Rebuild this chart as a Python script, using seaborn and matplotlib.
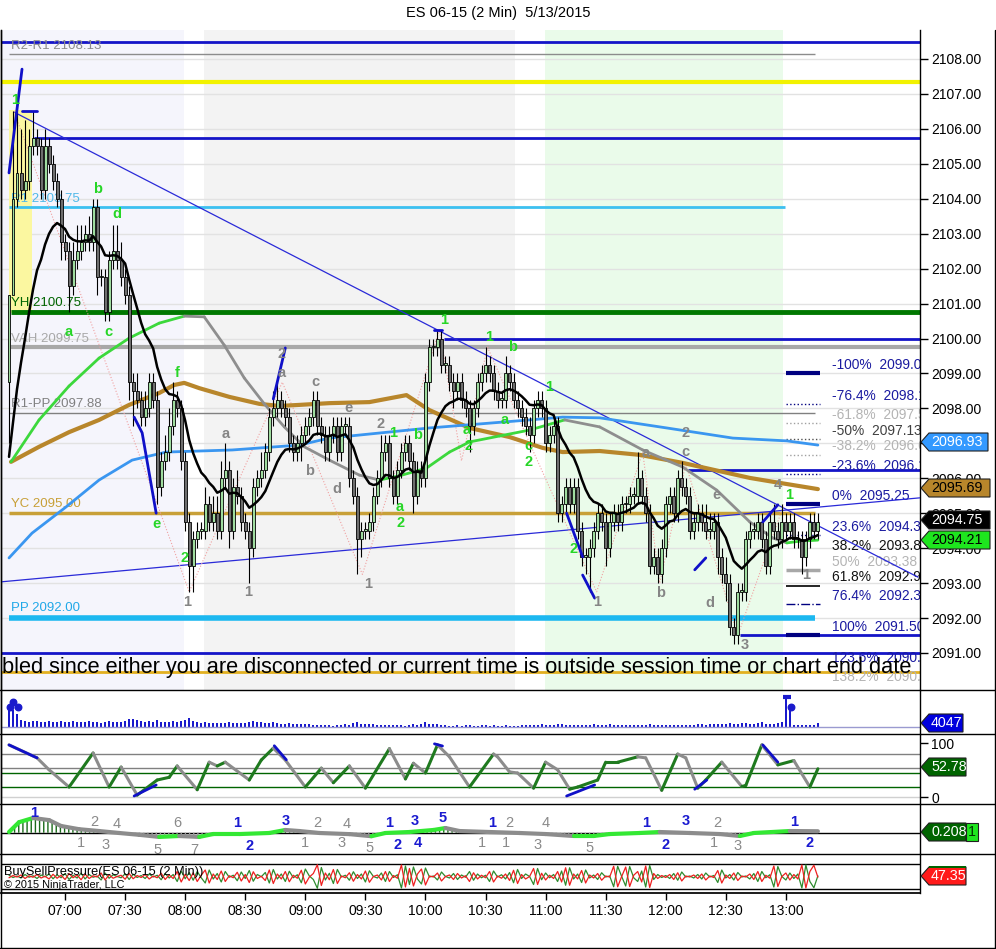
import numpy as np
import pandas as pd
import matplotlib
matplotlib.use("Agg")
import matplotlib.pyplot as plt
from matplotlib.patches import Polygon, Rectangle
from matplotlib.lines import Line2D
import seaborn as sns

W, H = 996, 949

TITLE = "ES 06-15 (2 Min)  5/13/2015"
MESSAGE = "bled since either you are disconnected or current time is outside session time or chart end date"

# ---- price bars (2 min, 06:32 .. 13:16), open = previous close ----
FIRST_OPEN = 2098.75
TICK = 0.25
CLOSES = [
    2101.25, 2104.0, 2104.75, 2104.25, 2104.5, 2105.5, 2105.75, 2105.5, 2104.25, 2105.5,
    2105.0, 2104.5, 2104.0, 2102.75, 2102.5, 2101.5, 2102.25, 2102.5, 2102.75, 2103.0,
    2102.75, 2103.75, 2101.75, 2101.75, 2100.75, 2102.25, 2102.5, 2102.25, 2101.75, 2101.25,
    2098.75, 2098.5, 2098.25, 2097.75, 2098.0, 2098.75, 2098.25, 2095.75, 2096.5, 2096.75,
    2097.5, 2098.25, 2098.0, 2096.5, 2094.75, 2093.5, 2094.25, 2094.5, 2094.5, 2095.25,
    2094.75, 2095.0, 2094.5, 2096.0, 2096.25, 2094.5, 2095.75, 2095.5, 2094.75, 2094.5,
    2094.0, 2095.75, 2096.0, 2096.25, 2096.75, 2097.75, 2098.0, 2098.25, 2098.0, 2097.75,
    2097.0, 2096.75, 2097.0, 2097.25, 2097.5, 2097.75, 2098.25, 2097.5, 2097.25, 2096.75,
    2097.25, 2097.5, 2096.75, 2097.5, 2097.5, 2096.0, 2095.5, 2094.25, 2094.5, 2094.5,
    2094.75, 2095.5, 2096.0, 2096.75, 2097.0, 2096.0, 2095.5, 2096.25, 2096.75, 2097.0,
    2096.5, 2095.5, 2096.25, 2096.0, 2098.75, 2099.75, 2099.75, 2100.0, 2099.25, 2099.25,
    2098.75, 2098.5, 2098.75, 2098.25, 2098.0, 2097.5, 2098.0, 2098.75, 2099.0, 2099.25,
    2099.0, 2098.5, 2098.25, 2098.25, 2099.0, 2098.75, 2098.25, 2098.0, 2097.75, 2097.5,
    2097.25, 2098.0, 2098.25, 2098.0, 2097.0, 2097.25, 2097.5, 2095.0, 2095.25, 2095.75,
    2095.25, 2095.75, 2094.5, 2093.75, 2093.75, 2094.0, 2094.5, 2095.0, 2094.75, 2094.0,
    2094.75, 2095.0, 2094.75, 2095.25, 2095.25, 2095.5, 2095.5, 2096.0, 2095.5, 2095.0,
    2093.5, 2093.75, 2093.25, 2094.0, 2095.25, 2095.5, 2095.0, 2096.0, 2095.75, 2095.5,
    2094.5, 2094.75, 2095.0, 2094.75, 2094.5, 2094.5, 2094.75, 2093.75, 2093.25, 2093.0,
    2091.75, 2091.5, 2092.75, 2092.75, 2094.25, 2094.5, 2094.5, 2094.75, 2094.25, 2093.5,
    2094.75, 2094.5, 2094.25, 2094.75, 2094.5, 2094.75, 2094.25, 2094.25, 2093.75, 2094.25,
    2094.75, 2094.5, 2094.75,
]
# wick lengths in ticks above / below the body
UP_TICKS = [
    0, 10, 7, 5, 7, 2, 3, 1, 1, 2,  1, 1, 1, 1, 1, 1, 2, 3, 2, 1,
    2, 1, 1, 1, 1, 1, 3, 3, 2, 1,  1, 1, 2, 1, 2, 1, 1, 1, 1, 2,
    2, 2, 1, 1, 1, 1, 1, 1, 1, 2,  1, 2, 2, 2, 3, 1, 1, 2, 1, 1,
    1, 1, 1, 2, 1, 1, 2, 2, 1, 1,  1, 1, 1, 1, 1, 1, 1, 1, 1, 1,
    1, 1, 1, 1, 1, 1, 1, 1, 1, 1,  1, 1, 1, 2, 1, 1, 1, 1, 1, 1,
    1, 1, 1, 1, 1, 1, 1, 1, 1, 1,  1, 1, 1, 1, 1, 1, 1, 1, 1, 2,
    1, 1, 1, 1, 2, 1, 1, 1, 1, 1,  1, 1, 1, 1, 1, 1, 1, 1, 1, 1,
    1, 1, 1, 1, 1, 1, 1, 1, 1, 1,  1, 1, 1, 1, 1, 1, 1, 3, 1, 1,
    1, 1, 1, 1, 1, 1, 1, 1, 2, 1,  1, 1, 1, 1, 2, 2, 1, 1, 1, 2,
    1, 1, 1, 1, 1, 1, 1, 1, 1, 1,  1, 2, 1, 2, 1, 1, 1, 1, 1, 1,
    1, 1, 1,
]
DN_TICKS = [
    7, 0, 1, 1, 1, 1, 1, 1, 1, 1,  1, 1, 1, 2, 1, 3, 1, 1, 1, 1,
    1, 1, 2, 1, 1, 1, 1, 1, 1, 1,  2, 4, 1, 1, 1, 1, 1, 2, 1, 1,
    1, 1, 1, 1, 1, 3, 3, 1, 1, 1,  1, 1, 1, 1, 1, 2, 1, 1, 1, 1,
    4, 1, 1, 1, 1, 1, 1, 1, 1, 1,  1, 1, 1, 2, 1, 1, 1, 1, 1, 1,
    1, 1, 1, 1, 1, 1, 1, 4, 2, 1,  1, 1, 1, 1, 1, 1, 1, 1, 1, 1,
    1, 2, 1, 1, 1, 1, 1, 1, 1, 1,  1, 2, 1, 1, 1, 3, 1, 1, 1, 1,
    1, 1, 1, 1, 1, 1, 1, 1, 1, 1,  2, 1, 1, 1, 1, 1, 1, 1, 1, 1,
    1, 1, 1, 1, 2, 4, 1, 1, 1, 2,  1, 1, 1, 1, 1, 1, 1, 1, 1, 1,
    1, 1, 1, 1, 1, 1, 1, 1, 1, 1,  1, 1, 1, 1, 1, 1, 1, 2, 1, 2,
    1, 1, 1, 1, 1, 1, 1, 1, 1, 1,  1, 1, 1, 1, 1, 1, 1, 1, 2, 1,
    1, 1, 1,
]
VOLUME = [
    17200, 17400, 13100, 7200, 6100, 5200, 6000, 5900, 5100, 5300,
    6200, 5100, 5000, 5800, 5200, 5100, 6100, 5000, 5200, 4900,
    6000, 5200, 5100, 4300, 5000, 6100, 5200, 4800, 5100, 6000,
    8100, 7900, 7000, 6200, 5100, 6000, 5200, 7100, 5000, 5100,
    4900, 6200, 5100, 5900, 7200, 8800, 6100, 5000, 4200, 5100,
    4100, 4200, 3900, 4100, 4000, 5000, 4100, 3900, 4200, 4000,
    5000, 6100, 5200, 4900, 4100, 3900, 5000, 4100, 3100, 2900,
    4000, 3100, 2900, 3200, 3000, 2900, 2100, 1900, 2200, 2000,
    1800, 1100, 2000, 2100, 3100, 1900, 4200, 5000, 3100, 2900,
    3000, 3100, 2000, 2100, 1900, 2000, 2200, 1900, 2100, 1200,
    2000, 3100, 2000, 2900, 5100, 3000, 3100, 2900, 2100, 1900,
    1100, 1200, 2000, 1100, 2100, 1900, 1200, 1100, 2000, 2100,
    1200, 1900, 1100, 1000, 2100, 1200, 1100, 1000, 2000, 2100,
    1900, 2200, 2000, 3100, 2000, 2100, 1900, 3000, 3200, 2000,
    1900, 2100, 2000, 1900, 2200, 2000, 3100, 2000, 2100, 1900,
    3000, 2100, 1900, 2000, 2200, 1900, 2000, 2100, 1900, 2000,
    3100, 2000, 2100, 1900, 2000, 2200, 1900, 2100, 2000, 1900,
    2100, 2000, 3100, 2900, 2100, 3000, 3200, 2900, 3100, 3000,
    4100, 3000, 2900, 4200, 4000, 3100, 2900, 4100, 5000, 3100,
    3000, 2900, 4100, 5200, 28000, 18000, 2100, 1900, 2000, 2100,
    1900, 2100, 4047,
]
VOL_MARK_BARS = [0.25, 1.0, 2.25, 195.25]
VOL_MARK_VALUES = [20000, 25000, 20000, 20000]
VOL_CAP_BARS = [194.25]
VOL_CAP_VALUES = [30000]

BUY_PRESSURE = [
    55, 46, 52, 44, 58, 47, 53, 42, 56, 49,  60, 41, 57, 45, 62, 38, 55, 44, 63, 40,
    58, 47, 52, 36, 64, 43, 57, 50, 45, 61,  38, 59, 46, 54, 42, 60, 48, 55, 37, 62,
    44, 58, 30, 72, 41, 66, 35, 70, 45, 24,  76, 40, 62, 28, 70, 47, 55, 33, 68, 42,
    74, 31, 58, 49, 66, 24, 78, 40, 60, 30,  71, 45, 57, 25, 80, 52, 38, 3, 86, 36,
    63, 22, 78, 48, 55, 35, 69, 42, 60, 28,  73, 50, 44, 64, 30, 70, 46, 57, 4, 92,
    18, 88, 40, 20, 84, 48, 52, 36, 68, 50,  44, 62, 38, 56, 47, 70, 35, 60, 45, 55,
    30, 72, 48, 57, 40, 66, 25, 78, 42, 60,  50, 18, 82, 37, 64, 45, 58, 30, 72, 15,
    85, 40, 60, 26, 76, 44, 56, 38, 65, 48,  52, 9, 91, 50, 12, 90, 45, 30, 72, 8,
    94, 38, 58, 46, 54, 42, 62, 35, 68, 48,  52, 44, 58, 40, 64, 48, 54, 26, 76, 44,
    58, 36, 66, 48, 52, 40, 62, 30, 70, 45,  57, 8, 90, 50, 36, 64, 42, 60, 4, 96,
    30, 5, 52.65,
]

# fast EMA (seeded from the prior session)
EMA_SEED = 2095.9
EMA_LEN = 14

# slower averages (bar, price)
MA_SLOW_BARS = [0.5, 7.5, 15, 22.5, 30, 37.5, 43.75, 48.75, 53.75, 58.75, 63.75, 68.75, 73.75,
                80, 87.5, 92.5, 97.5, 104.25, 110, 115, 122.5, 130, 138.75, 147.5, 158.25,
                168.25, 176.75, 185, 190.75, 194.25, 197.5, 202]
MA_SLOW_VALUES = [2096.47, 2097.67, 2098.64, 2099.44, 2100.01, 2100.44, 2100.64, 2100.62, 2099.81,
                  2098.87, 2098.13, 2097.47, 2096.90, 2096.52, 2096.09, 2095.95, 2096.07, 2096.29,
                  2096.75, 2097.04, 2097.21, 2097.38, 2097.67, 2097.47, 2096.81, 2096.32, 2095.66,
                  2094.75, 2094.29, 2094.15, 2094.20, 2094.23]
MA_BROWN_BARS = [0.5, 7.5, 15, 22.5, 30, 37.5, 41.25, 43.75, 47.5, 55, 62.5, 67.5, 72.5, 80,
                 90, 99.25, 105, 115, 125, 133.25, 138.25, 147.5, 157.5, 168.25, 185, 190.75, 202]
MA_BROWN_VALUES = [2096.47, 2096.90, 2097.32, 2097.67, 2098.10, 2098.44, 2098.67, 2098.73, 2098.58,
                   2098.33, 2098.13, 2098.07, 2098.10, 2098.15, 2098.18, 2098.38, 2097.95, 2097.44,
                   2097.18, 2096.87, 2096.75, 2096.78, 2096.67, 2096.44, 2096.01, 2095.90, 2095.69]
MA_BLUE_BARS = [0, 5.75, 14.25, 22.5, 30.75, 39.25, 55.75, 72.5, 80, 105, 130, 138.25, 147.5,
                164.25, 180.75, 194.25, 202]
MA_BLUE_VALUES = [2093.72, 2094.43, 2095.18, 2095.95, 2096.52, 2096.75, 2096.81, 2096.95, 2097.15,
                  2097.44, 2097.67, 2097.75, 2097.73, 2097.44, 2097.15, 2097.07, 2096.95]

# horizontal levels: price, first bar, last bar, colour, width
LEVEL_PRICES = [2108.49, 2108.13, 2107.34, 2105.75, 2103.75, 2100.75, 2100.00, 2099.75,
                2097.88, 2096.25, 2095.00, 2092.00, 2091.50, 2091.00, 2090.46]
LEVEL_START = [-2.5, 0, -2.5, 6.25, 0, 0.5, 108.75, 0.5, 0, 169.5, 0, 0, 182.5, -2.5, -2.5]
LEVEL_END = [227.5, 201.25, 227.5, 227.5, 193.75, 227.5, 227.5, 227.5, 201.25, 227.5, 201.25,
             201.25, 227.5, 227.5, 227.5]
LEVEL_COLORS = ["#1414c8", "#8c8c8c", "#f2f200", "#1414c8", "#3cc0f0", "#007800", "#1414c8",
                "#a8a8a8", "#808080", "#1414c8", "#c8a038", "#1cb8f0", "#1414c8", "#1414c8", "#e2b020"]
LEVEL_WIDTHS = [2, 1, 3, 2, 2, 3.5, 2, 3, 1, 2, 2.5, 4, 2, 2, 2]

LEVEL_LABELS = ["R2-R1 2108.13", "R1 2103.75", "YH 2100.75", "VAH 2099.75",
                "R1-PP 2097.88", "YC 2095.00", "PP 2092.00"]
LEVEL_LABEL_PRICES = [2108.37, 2103.99, 2101.02, 2099.99, 2098.13, 2095.26, 2092.29]
LEVEL_LABEL_COLORS = ["#8c8c8c", "#50b8e8", "#006400", "#a8a8a8", "#808080", "#c8a038", "#20a8e8"]

# fibonacci block on the right
FIB_PCTS = ["-100%", "-76.4%", "-61.8%", "-50%", "-38.2%", "-23.6%", "0%", "23.6%", "38.2%",
            "50%", "61.8%", "76.4%", "100%", "123.6%", "138.2%"]
FIB_PRICES = [2099.00, 2098.12, 2097.57, 2097.13, 2096.68, 2096.13, 2095.25, 2094.37, 2093.82,
              2093.38, 2092.93, 2092.39, 2091.50, 2090.62, 2090.07]
FIB_TEXT_COLORS = ["#1a1aa0", "#1a1aa0", "#b4b4b4", "#404040", "#b4b4b4", "#1a1aa0", "#1a1aa0",
                   "#1a1aa0", "#111111", "#b4b4b4", "#111111", "#1a1aa0", "#1a1aa0", "#1a1aa0", "#b4b4b4"]
FIB_LINE_STYLES = ["-", ":", ":", ":", ":", ":", "-", ":", None, "-", "-", "-.", "-", None, None]
FIB_LINE_COLORS = ["#000080", "#000080", "#a0a0a0", "#505050", "#a0a0a0", "#000080", "#000080",
                   "#000080", None, "#a8a8a8", "#000000", "#000080", "#000080", None, None]
FIB_LINE_WIDTHS = [3, 1, 1, 1, 1, 1, 3, 1, 0, 2.5, 1.2, 1, 3, 0, 0]

# trend lines and swing zigzag (bar, price)
TREND_DOWN = [(1.25, 2106.48), (227, 2093.17)]
TREND_UP = [(-2.5, 2093.03), (227.5, 2095.44)]
ZIGZAG_BARS = [1.25, 45, 68.25, 88.25, 107.5, 113, 119.5, 131, 146.75, 158.25, 162.5, 169, 182, 193.5]
ZIGZAG_PRICES = [2106.5, 2092.75, 2098.75, 2093.25, 2100.25, 2096.5, 2099.75, 2096.75, 2092.75,
                 2096.75, 2093.0, 2096.4, 2091.5, 2095.25]
BLUE_MARKS = [
    [(0, 2104.74), (3.25, 2107.71)],
    [(3.25, 2106.51), (7, 2106.51)],
    [(31.25, 2097.75), (33.25, 2097.30), (36.75, 2095.0)],
    [(66, 2098.27), (69, 2099.73)],
    [(106.25, 2100.24), (108.25, 2100.24)],
    [(139.25, 2095.0), (143.25, 2093.75)],
    [(143.25, 2093.23), (146.25, 2092.57)],
    [(171.25, 2093.38), (174, 2093.72)],
    [(188.25, 2094.75), (192, 2095.24)],
]

GREEN_LABELS = [("1", 1.5, 2106.83), ("b", 22, 2104.28), ("d", 27, 2103.56), ("a", 15, 2100.19),
                ("c", 24.75, 2100.19), ("f", 42, 2099.01), ("e", 36.75, 2094.69), ("2", 43.75, 2093.72),
                ("1", 108.75, 2100.53), ("1", 120, 2100.04), ("b", 125.75, 2099.76), ("1", 135, 2098.61),
                ("1", 96, 2097.30), ("b", 102, 2097.24), ("a", 97.5, 2095.18), ("2", 97.75, 2094.72),
                ("a", 114.25, 2097.38), ("2", 114.75, 2096.92), ("a", 123.75, 2097.67),
                ("c", 129.75, 2096.92), ("2", 129.75, 2096.47), ("2", 141, 2093.98), ("1", 194.75, 2095.52)]
GRAY_LABELS = [("1", 44.5, 2092.46), ("1", 59.75, 2092.75), ("a", 54, 2097.27), ("2", 68, 2099.56),
               ("a", 68, 2099.01), ("c", 76.5, 2098.76), ("b", 75, 2096.21), ("e", 84.75, 2098.01),
               ("d", 82, 2095.69), ("2", 92.75, 2097.55), ("1", 89.75, 2092.97), ("1", 146.75, 2092.46),
               ("b", 162.75, 2092.72), ("a", 159, 2096.72), ("2", 169, 2097.30), ("c", 169, 2096.75),
               ("e", 176.75, 2095.52), ("d", 175, 2092.43), ("3", 183.75, 2091.23), ("4", 192, 2095.81),
               ("1", 199, 2093.23)]

# session shading (bar ranges)
SHADE_BARS = [(-2.5, 43.75), (48.75, 126.25), (133.75, 193.25)]
SHADE_COLORS = ["#f5f5fc", "#f3f3f3", "#eafbea"]
OPEN_RANGE = (0, 5.75, 2100.73, 2106.54)

# stochastics (bar, value)
STOCH_BARS = [0, 7, 10, 15, 21, 25, 28, 32, 37, 40, 42, 47, 50, 52, 54, 60, 63, 66, 69, 74, 78, 81,
              85, 89, 95, 99, 101, 104, 107, 110, 115, 121, 122, 125, 127, 131, 134, 137, 140, 142,
              147, 149, 152, 157, 159, 163, 167, 169, 172, 174, 178, 183, 184, 188, 192, 196, 200, 202]
STOCH_VALUES = [97, 73, 51, 19, 82, 19, 56, 4, 32, 37, 58, 14, 65, 58, 65, 32, 69, 91, 69, 19, 54,
                27, 58, 17, 90, 34, 63, 45, 97, 75, 19, 80, 75, 47, 45, 17, 65, 51, 15, 19, 32, 65,
                65, 75, 73, 13, 80, 73, 17, 32, 65, 20, 22, 97, 60, 68, 19, 52.78]
STOCH_LEVELS = [80, 55, 45, 20, 0]
STOCH_LEVEL_COLORS = ["#808080", "#808080", "#006400", "#006400", "#d0d0d0"]
STOCH_BLUE = [[(0, 97), (7, 73)], [(31.25, 2.4), (36.75, 22.8)], [(66.25, 95.4), (69.25, 69.4)],
              [(106.25, 99), (108.25, 95)], [(139.25, 2.4), (146.25, 22.8)],
              [(171.25, 15), (174.25, 32)], [(188.25, 97), (192, 65)]]

# momentum oscillator (bar, value)
OSC_BARS = [0, 2.5, 6, 10, 13, 17.5, 22.5, 27.5, 32.5, 37.5, 42.5, 47.5, 51, 57.5, 65, 69, 72.5,
            77.5, 85, 90.5, 94, 100, 106, 109, 112.5, 120, 127.5, 134, 141, 146, 150, 157.5, 162.5,
            170, 177.5, 182.5, 186, 195, 202]
OSC_VALUES = [0.1, 1.5, 2.1, 1.8, 0.96, 0.5, 0.24, -0.04, -0.3, -0.6, -0.47, -0.6, -0.19, -0.19,
              -0.04, 0.39, 0.24, -0.04, -0.2, -0.5, -0.04, 0.1, 0.39, 0.67, 0.24, 0.1, -0.04, -0.19,
              -0.47, -0.47, -0.19, -0.04, 0.1, -0.04, -0.19, -0.47, -0.04, 0.24, 0.208]
OSC_LABELS = [("1", 6.25, 2.8, "b"), ("2", 21.25, 1.53, "g"), ("4", 27, 1.24, "g"), ("1", 18, -1.47, "g"),
              ("3", 24, -1.76, "g"), ("6", 42, 1.39, "g"), ("5", 37, -2.47, "g"), ("7", 46.25, -2.47, "g"),
              ("1", 57, 1.39, "b"), ("2", 60, -1.9, "b"), ("3", 69, 1.67, "b"), ("2", 77, 1.39, "g"),
              ("4", 84.25, 1.24, "g"), ("1", 74, -1.47, "g"), ("3", 83, -1.47, "g"), ("5", 90, -2.19, "g"),
              ("1", 95, 1.39, "b"), ("2", 97, -1.76, "b"), ("3", 101.25, 1.67, "b"), ("4", 102, -1.47, "b"),
              ("5", 108.25, 2.1, "b"), ("1", 120.75, 1.39, "b"), ("2", 125, 1.39, "g"), ("1", 118, -1.47, "g"),
              ("1", 124, -1.47, "g"), ("4", 134, 1.39, "g"), ("3", 132, -1.76, "g"), ("5", 145, -2.19, "g"),
              ("1", 159, 1.39, "b"), ("2", 164, -1.76, "b"), ("3", 169, 1.67, "b"), ("2", 177, 1.39, "g"),
              ("1", 176, -1.47, "g"), ("3", 182, -1.9, "g"), ("1", 196, 1.53, "b"), ("2", 200, -1.47, "b")]

PRICE_TICKS = list(range(2091, 2109))
TIME_BARS = [14, 29, 44, 59, 74, 89, 104, 119, 134, 149, 164, 179, 194]
TIME_LABELS = ["07:00", "07:30", "08:00", "08:30", "09:00", "09:30", "10:00", "10:30",
               "11:00", "11:30", "12:00", "12:30", "13:00"]

XMIN, XMAX = -2.0, 227.5
SMALL = 9.5

sns.set_theme(style="white")
plt.rcParams["font.family"] = ["Liberation Sans", "DejaVu Sans"]
plt.rcParams["hatch.linewidth"] = 1.0

fig = plt.figure(figsize=(W / 100, H / 100), dpi=100)
fig.patch.set_facecolor("white")


def fx(x):
    return x / W


def fy(y):
    return 1 - y / H


def px_axes(x0, y0, x1, y1):
    a = fig.add_axes([x0 / W, 1 - y1 / H, (x1 - x0) / W, (y1 - y0) / H])
    a.set_facecolor("white")
    a.set_xlim(XMIN, XMAX)
    a.set_xticks([])
    a.set_yticks([])
    for s in ["top", "bottom"]:
        a.spines[s].set_visible(False)
    for s in ["left", "right"]:
        a.spines[s].set_color("black")
        a.spines[s].set_linewidth(1)
    return a


def flag(yc, text, fc, tc, right, h=18):
    pts = [(921, yc), (929, yc - h / 2), (right, yc - h / 2), (right, yc + h / 2), (929, yc + h / 2)]
    fig.add_artist(Polygon([(fx(a), fy(b)) for a, b in pts], closed=True,
                           transform=fig.transFigure, fc=fc, ec="#202020", lw=0.8, zorder=30))
    fig.text(fx(931), fy(yc), text, color=tc, fontsize=10.3, va="center", ha="left", zorder=31)


bars = pd.DataFrame({"bar": np.arange(len(CLOSES)), "close": CLOSES})
bars["open"] = [FIRST_OPEN] + CLOSES[:-1]
bars["high"] = np.maximum(bars.open, bars.close) + np.array(UP_TICKS) * TICK
bars["low"] = np.minimum(bars.open, bars.close) - np.array(DN_TICKS) * TICK
bars["ema"] = pd.Series([EMA_SEED] + CLOSES).ewm(span=EMA_LEN, adjust=False).mean().iloc[1:].values

# ================= main price panel =================
ax = px_axes(1, 30, 920, 690)
ax.set_ylim(2089.94, 2108.83)
for (b0, b1), col in zip(SHADE_BARS, SHADE_COLORS):
    ax.axvspan(b0, b1, color=col, lw=0, zorder=0)
for p in PRICE_TICKS:
    ax.axhline(p, color="#e2e2e2", lw=1, zorder=0.5)
ax.add_patch(Rectangle((OPEN_RANGE[0], OPEN_RANGE[2]), OPEN_RANGE[1] - OPEN_RANGE[0],
                       OPEN_RANGE[3] - OPEN_RANGE[2], fc="#fbf7a0", ec="none", zorder=0.8))

for p, b0, b1, col, lw in zip(LEVEL_PRICES, LEVEL_START, LEVEL_END, LEVEL_COLORS, LEVEL_WIDTHS):
    ax.plot([b0, b1], [p, p], color=col, lw=lw, zorder=2, solid_capstyle="butt")
for txt, p, col in zip(LEVEL_LABELS, LEVEL_LABEL_PRICES, LEVEL_LABEL_COLORS):
    ax.text(0.5, p, txt, color=col, fontsize=SMALL, va="center", ha="left", zorder=2.5)

# fibonacci
for pct, p, tc, ls, lc, lw in zip(FIB_PCTS, FIB_PRICES, FIB_TEXT_COLORS, FIB_LINE_STYLES,
                                   FIB_LINE_COLORS, FIB_LINE_WIDTHS):
    if ls is not None:
        ax.plot([194, 202.5], [p, p], color=lc, lw=lw, ls=ls, zorder=2, solid_capstyle="butt")
    ax.text(205.5, p + 0.23, f"{pct}  {p:.2f}", color=tc, fontsize=9.9, va="center",
            ha="left", zorder=2.5, clip_on=True)

# trend lines, zigzag
for seg in (TREND_DOWN, TREND_UP):
    ax.plot([seg[0][0], seg[1][0]], [seg[0][1], seg[1][1]], color="#2a2ad8", lw=0.9, zorder=2.6)
ax.plot(ZIGZAG_BARS, ZIGZAG_PRICES, color="#f0a0a0", lw=0.8, ls=":", zorder=2.6)

# moving averages
sns.lineplot(x=MA_BROWN_BARS, y=MA_BROWN_VALUES, ax=ax, color="#b8862b", lw=3, zorder=3,
             estimator=None, sort=False)
sns.lineplot(x=MA_BLUE_BARS, y=MA_BLUE_VALUES, ax=ax, color="#3a96f0", lw=2, zorder=3,
             estimator=None, sort=False)
for k in range(len(MA_SLOW_BARS) - 1):
    rising = MA_SLOW_VALUES[k + 1] > MA_SLOW_VALUES[k]
    ax.plot(MA_SLOW_BARS[k:k + 2], MA_SLOW_VALUES[k:k + 2],
            color="#3cd83c" if rising else "#8e8e8e", lw=2, zorder=3, solid_capstyle="round")

# candles
up = bars.close >= bars.open
ax.vlines(bars.bar, bars.low, bars.high, color="black", lw=0.8, zorder=4)
ax.bar(bars.bar, (bars.close - bars.open).abs().clip(lower=0.05), bottom=np.minimum(bars.open, bars.close),
       width=0.74, color=np.where(up, "#9fdc9f", "#6e6e6e"), edgecolor="black", lw=0.6, zorder=4.5)
sns.lineplot(data=bars, x="bar", y="ema", ax=ax, color="black", lw=1.8, zorder=5)

for seg in BLUE_MARKS:
    ax.plot([s[0] for s in seg], [s[1] for s in seg], color="#1010c8", lw=2, zorder=5.5)
for txt, b, p in GREEN_LABELS:
    ax.text(b, p, txt, color="#26d626", fontsize=10.5, fontweight="bold", ha="center", va="center", zorder=6)
for txt, b, p in GRAY_LABELS:
    ax.text(b, p, txt, color="#858585", fontsize=10.5, fontweight="bold", ha="center", va="center", zorder=6)

ax.set_xlabel("")
ax.set_ylabel("")
ax.yaxis.tick_right()
ax.set_yticks(PRICE_TICKS, [f"{p:.2f}" for p in PRICE_TICKS])
ax.tick_params(axis="y", length=6, width=1, pad=2, labelsize=10, colors="black", right=True)
ax.set_xlim(XMIN, XMAX)
ax.set_ylim(2089.94, 2108.83)

# ================= volume =================
axv = px_axes(1, 690, 920, 734)
axv.set_ylim(-7000, 37000)
axv.axhline(0, color="#9a9ad0", lw=1)
axv.bar(bars.bar, VOLUME, width=0.5, color="#1a1acc", lw=0)
axv.scatter(VOL_MARK_BARS, VOL_MARK_VALUES, s=22, color="#1a1acc", zorder=3)
axv.scatter(VOL_CAP_BARS, VOL_CAP_VALUES, s=40, marker="_", color="#1a1acc", lw=3, zorder=3)

# ================= stochastics =================
axs = px_axes(1, 734, 920, 804)
axs.set_ylim(-12.4, 117.2)
for lv, col in zip(STOCH_LEVELS, STOCH_LEVEL_COLORS):
    axs.axhline(lv, color=col, lw=1, zorder=1)
for k in range(len(STOCH_BARS) - 1):
    rising = STOCH_VALUES[k + 1] >= STOCH_VALUES[k]
    axs.plot(STOCH_BARS[k:k + 2], STOCH_VALUES[k:k + 2], color="#1f7a1f" if rising else "#8c8c8c",
             lw=2.2, zorder=2, solid_capstyle="round")
for seg in STOCH_BLUE:
    axs.plot([seg[0][0], seg[1][0]], [seg[0][1], seg[1][1]], color="#1010c8", lw=2, zorder=3)
axs.yaxis.tick_right()
axs.set_yticks([0, 100], ["0", "100"])
axs.tick_params(axis="y", length=6, width=1, pad=2, labelsize=10, colors="black", right=True)

# ================= oscillator =================
axo = px_axes(1, 804, 920, 854)
axo.set_ylim(-3.04, 4.1)
axo.axhline(0, color="black", lw=1, zorder=1)
ob = np.array(OSC_BARS)
ov = np.array(OSC_VALUES)
axo.fill_between(ob, ov, 0, where=ov >= 0, interpolate=True, facecolor="none",
                 edgecolor="#1a6a1a", hatch="||||", lw=0, zorder=1.5)
axo.fill_between(ob, ov, 0, where=ov < 0, interpolate=True, facecolor="none",
                 edgecolor="#9a9a9a", hatch="||||", lw=0, zorder=1.5)
for k in range(len(OSC_BARS) - 1):
    rising = OSC_VALUES[k + 1] >= OSC_VALUES[k]
    axo.plot(OSC_BARS[k:k + 2], OSC_VALUES[k:k + 2], color="#33e833" if rising else "#8c8c8c",
             lw=3, zorder=2, solid_capstyle="round")
for txt, b, v, c in OSC_LABELS:
    axo.text(b, v, txt, color="#1a1ad0" if c == "b" else "#8a8a8a", fontsize=10.5,
             fontweight="bold" if c == "b" else "normal", ha="center", va="center", zorder=3, clip_on=True)

# ================= buy / sell pressure =================
axb = px_axes(1, 854, 920, 893)
axb.set_ylim(-16, 140)
axb.axhline(100, color="black", lw=1)
axb.axhline(0, color="black", lw=1)
bsp = pd.DataFrame({"bar": bars.bar, "buy": BUY_PRESSURE})
bsp["sell"] = 100 - bsp.buy
sns.lineplot(data=bsp, x="bar", y="buy", ax=axb, color="#2e8b2e", lw=0.9)
sns.lineplot(data=bsp, x="bar", y="sell", ax=axb, color="#ee2020", lw=0.9)
axb.set_xlabel("")
axb.set_ylabel("")
axb.set_yticks([])
axb.spines["bottom"].set_visible(True)
axb.spines["bottom"].set_color("black")
axb.set_xticks(TIME_BARS, TIME_LABELS)
axb.tick_params(axis="x", length=5, width=1, pad=3, labelsize=10, colors="black", bottom=True)
axb.set_xlim(XMIN, XMAX)
axb.text(0.003, 0.55, "BuySellPressure(ES 06-15 (2 Min))", transform=axb.transAxes,
         fontsize=9.2, va="center", ha="left", color="black")
axb.text(0.003, 0.2, "\u00a9 2015 NinjaTrader, LLC", transform=axb.transAxes,
         fontsize=7.8, va="center", ha="left", color="black")

# ================= frame, flags, title =================
for y in (690, 734, 804, 854):
    fig.add_artist(Line2D([fx(0), fx(995)], [fy(y), fy(y)], color="black", lw=1,
                          transform=fig.transFigure, zorder=20))
fig.add_artist(Line2D([fx(995), fx(995)], [fy(30), fy(948)], color="black", lw=1,
                      transform=fig.transFigure, zorder=20))
fig.add_artist(Line2D([fx(0), fx(995)], [fy(948), fy(948)], color="black", lw=1,
                      transform=fig.transFigure, zorder=20))
fig.add_artist(Line2D([fx(0.5), fx(0.5)], [fy(30), fy(948)], color="black", lw=1,
                      transform=fig.transFigure, zorder=20))

flag(442, "2096.93", "#3399ff", "white", 988)
flag(488, "2095.69", "#b8862b", "black", 990)
flag(520, "2094.75", "black", "white", 990)
flag(540, "2094.21", "#1ee61e", "black", 990)
flag(723, "4047", "#0000dd", "white", 963)
flag(767, "52.78", "#006400", "white", 966)
flag(832, "0.208", "#006400", "white", 966)
fig.add_artist(Rectangle((fx(966), fy(841)), fx(12), 18 / H, fc="#1ee61e", ec="#202020", lw=0.8,
                         transform=fig.transFigure, zorder=30))
fig.text(fx(968), fy(832), "1", color="#003300", fontsize=10.3, va="center", zorder=31)
flag(876, "47.35", "#ff1a1a", "white", 966)
fig.add_artist(Rectangle((fx(929), fy(868)), fx(37), 2 / H, fc="#006400", ec="none",
                         transform=fig.transFigure, zorder=32))

fig.text(0.5, fy(13), TITLE, ha="center", va="center", fontsize=10.5, color="black")

msg = fig.text(fx(2), fy(668), MESSAGE, ha="left", va="center", fontsize=13, color="black", zorder=25)
fig.canvas.draw()
wpx = msg.get_window_extent().width
msg.set_fontsize(13 * 910 / wpx)

fig.savefig("out.png", dpi=100, facecolor="white")
